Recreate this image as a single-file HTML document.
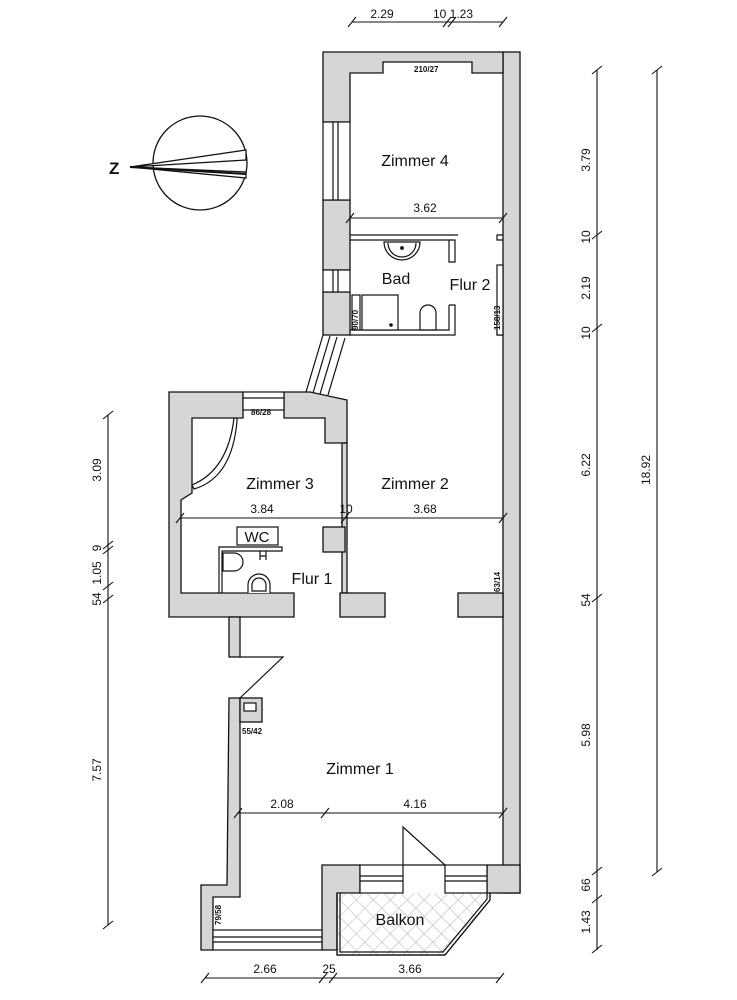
<!DOCTYPE html>
<html><head><meta charset="utf-8"><style>
html,body{margin:0;padding:0;background:#fff}
svg{display:block}
text{font-family:"Liberation Sans",sans-serif;fill:#111}
</style></head><body>
<svg width="737" height="1000" viewBox="0 0 737 1000" xmlns="http://www.w3.org/2000/svg">
<defs>
<pattern id="hatch" width="12" height="12" patternUnits="userSpaceOnUse" patternTransform="rotate(45)">
<path d="M0 0H12M0 0V12" stroke="#999" stroke-width="0.7" fill="none"/>
</pattern>
</defs>
<g stroke="#111" stroke-width="1.3" fill="#d6d6d6" stroke-linejoin="miter">
<!-- right long wall -->
<rect x="503" y="52" width="17" height="841"/>
<!-- top wall -->
<polygon points="323,52 503,52 503,73 472,73 472,62 383,62 383,73 350,73 350,122 323,122"/>
<rect x="323" y="200" width="27" height="70"/>
<rect x="323" y="292" width="27" height="43"/>
<!-- Zimmer 3 block -->
<polygon points="169,392 243,392 243,418 192,418 192,493 181,500 181,593 294,593 294,617 169,617"/>
<polygon points="284,392 310,392 347,400 347,443 325,443 325,418 284,418"/>
<rect x="342" y="443" width="5" height="150"/>
<rect x="323" y="527" width="22" height="25"/>
<rect x="340" y="593" width="45" height="24"/>
<rect x="458" y="593" width="45" height="24"/>
<rect x="229" y="617" width="11" height="40"/>
<!-- lower left wall -->
<polygon points="229,698 240,698 240,897 213,897 213,930 213,950 201,950 201,885 227,885"/>
<rect x="240" y="698" width="22" height="24"/>
<polygon points="322,865 360,865 360,893 337,893 337,950 322,950"/>
<rect x="487" y="865" width="33" height="28"/>
</g>
<g stroke="#111" stroke-width="1.2" fill="none">
<!-- windows -->
<rect x="323" y="122" width="27" height="78" fill="#fff"/>
<line x1="333" y1="122" x2="333" y2="200"/><line x1="338" y1="122" x2="338" y2="200"/>
<rect x="323" y="270" width="27" height="22" fill="#fff"/>
<line x1="333" y1="270" x2="333" y2="292"/><line x1="338" y1="270" x2="338" y2="292"/>
<rect x="243" y="392" width="41" height="18" fill="#fff"/>
<line x1="243" y1="398" x2="284" y2="398"/>
<rect x="213" y="930" width="109" height="20" fill="#fff"/>
<line x1="213" y1="937" x2="322" y2="937"/><line x1="213" y1="942" x2="322" y2="942"/>
<rect x="360" y="865" width="43" height="28" fill="#fff"/>
<line x1="360" y1="876" x2="403" y2="876"/><line x1="360" y1="881" x2="403" y2="881"/>
<rect x="445" y="865" width="42" height="28" fill="#fff"/>
<line x1="445" y1="876" x2="487" y2="876"/><line x1="445" y1="881" x2="487" y2="881"/>
<!-- balcony door leaf -->
<polygon points="403,827 445,865 403,865" fill="#fff"/>
<!-- diagonal passage -->
<line x1="323" y1="335" x2="306" y2="392"/><line x1="345" y1="338" x2="328" y2="395"/>
<line x1="330" y1="336" x2="313" y2="393"/><line x1="337" y1="337" x2="320" y2="394"/>
<!-- bad walls -->
<path d="M350 235H458M350 240H455V262H449V240"/>
<path d="M449 305H455V335H350M449 305V330H350"/>
<path d="M503 235H497V240H503M503 330H497V335H503"/>
<rect x="497" y="265" width="6" height="70" fill="#fff"/>
<!-- sink -->
<path d="M384 242A18 18 0 0 0 420 242Z" fill="#fff"/>
<path d="M388 243A14 14 0 0 0 416 243"/>
<circle cx="402" cy="248" r="1.3" fill="#111"/>
<!-- shower -->
<rect x="352" y="295" width="8" height="35" fill="#fff"/>
<rect x="362" y="295" width="36" height="35" fill="#fff"/>
<circle cx="391" cy="325" r="1.2" fill="#111"/>
<!-- toilet bad -->
<path d="M420 330V313A8 8 0 0 1 436 313V330Z" fill="#fff"/>
<!-- door arc zimmer3 -->
<path d="M237 418V421Q232 478 194 489L192 485Q228 470 234 418"/>
<!-- WC -->
<rect x="237" y="527" width="41" height="18" fill="#fff"/>
<path d="M219 593V547H282V551H222V593"/>
<path d="M260 551V560M266 551V560M260 556H266"/>
<path d="M223 553H234A9 9 0 0 1 234 571H223Z" fill="#fff"/>
<path d="M248 593V585A11 11 0 0 1 270 585V593" fill="#fff"/>
<path d="M252 591V585A7 7 0 0 1 266 585V591Z"/>
<!-- lower diag -->
<path d="M240 657H283L240 698"/>
<rect x="244" y="703" width="12" height="8" fill="#fff"/>
<!-- balcony -->
<path d="M337 893V955H445L490 900V893" fill="url(#hatch)"/>
<path d="M337 893V955H445L490 900V893"/>
<path d="M340 893V952H443L487 899V893"/>
</g>
<!-- compass -->
<g stroke="#111" stroke-width="1.3" fill="none">
<circle cx="200" cy="163" r="47"/>
<polygon points="130,167 246,150 246,160" fill="#fff"/>
<polygon points="130,167 246,172 246,178" fill="#fff"/>
<line x1="130" y1="167" x2="246" y2="174" stroke-width="2"/>
</g>
<text x="109" y="174" font-size="17" font-weight="bold">Z</text>
<!-- dimension lines -->
<g stroke="#111" stroke-width="1.1" fill="none">
<line x1="352" y1="22" x2="503" y2="22"/>
<line x1="350" y1="218" x2="503" y2="218"/>
<line x1="180" y1="518" x2="503" y2="518"/>
<line x1="238" y1="813" x2="503" y2="813"/>
<line x1="205" y1="978" x2="500" y2="978"/>
<line x1="597" y1="70" x2="597" y2="950"/>
<line x1="657" y1="70" x2="657" y2="872"/>
<line x1="108" y1="415" x2="108" y2="925"/>
<path d="M348 27l8-10M443 27l8-10M448 27l8-10M499 27l8-10"/>
<path d="M346 223l8-10M499 223l8-10"/>
<path d="M176 523l8-10M341 523l8-10M499 523l8-10"/>
<path d="M234 818l8-10M321 818l8-10M499 818l8-10"/>
<path d="M201 983l8-10M319 983l8-10M329 983l8-10M496 983l8-10"/>
<path d="M592 74l10-8M592 239l10-8M592 332l10-8M592 602l10-8M592 875l10-8M592 903l10-8M592 953l10-8"/>
<path d="M652 74l10-8M652 876l10-8"/>
<path d="M103 419l10-8M103 549l10-8M103 554l10-8M103 590l10-8M103 603l10-8M103 929l10-8"/>
</g>
<g font-size="12">
<text x="382" y="18" text-anchor="middle">2.29</text>
<text x="453" y="18" text-anchor="middle">10 1.23</text>
<text x="425" y="212" text-anchor="middle">3.62</text>
<text x="262" y="513" text-anchor="middle">3.84</text>
<text x="346" y="513" text-anchor="middle">10</text>
<text x="425" y="513" text-anchor="middle">3.68</text>
<text x="282" y="808" text-anchor="middle">2.08</text>
<text x="415" y="808" text-anchor="middle">4.16</text>
<text x="265" y="973" text-anchor="middle">2.66</text>
<text x="329" y="973" text-anchor="middle">25</text>
<text x="410" y="973" text-anchor="middle">3.66</text>
<g text-anchor="middle">
<text transform="translate(590,160) rotate(-90)">3.79</text>
<text transform="translate(590,237) rotate(-90)">10</text>
<text transform="translate(590,288) rotate(-90)">2.19</text>
<text transform="translate(590,333) rotate(-90)">10</text>
<text transform="translate(590,465) rotate(-90)">6.22</text>
<text transform="translate(590,600) rotate(-90)">54</text>
<text transform="translate(590,735) rotate(-90)">5.98</text>
<text transform="translate(590,885) rotate(-90)">66</text>
<text transform="translate(590,922) rotate(-90)">1.43</text>
<text transform="translate(650,470) rotate(-90)">18.92</text>
<text transform="translate(101,470) rotate(-90)">3.09</text>
<text transform="translate(101,548) rotate(-90)">9</text>
<text transform="translate(101,573) rotate(-90)">1.05</text>
<text transform="translate(101,599) rotate(-90)">54</text>
<text transform="translate(101,770) rotate(-90)">7.57</text>
</g>
</g>
<g font-size="8" font-weight="bold">
<text x="414" y="72">210/27</text>
<text x="251" y="415">86/28</text>
<text x="242" y="734">55/42</text>
<text transform="translate(358,330) rotate(-90)">90/70</text>
<text transform="translate(500,330) rotate(-90)">158/13</text>
<text transform="translate(500,592) rotate(-90)">63/14</text>
<text transform="translate(221,925) rotate(-90)">79/58</text>
</g>
<g font-size="16">
<text x="415" y="166" text-anchor="middle">Zimmer 4</text>
<text x="396" y="284" text-anchor="middle">Bad</text>
<text x="470" y="290" text-anchor="middle">Flur 2</text>
<text x="280" y="489" text-anchor="middle">Zimmer 3</text>
<text x="415" y="489" text-anchor="middle">Zimmer 2</text>
<text x="257" y="542" text-anchor="middle" font-size="15">WC</text>
<text x="312" y="584" text-anchor="middle">Flur 1</text>
<text x="360" y="774" text-anchor="middle">Zimmer 1</text>
<text x="400" y="925" text-anchor="middle">Balkon</text>
</g>
</svg>
</body></html>
